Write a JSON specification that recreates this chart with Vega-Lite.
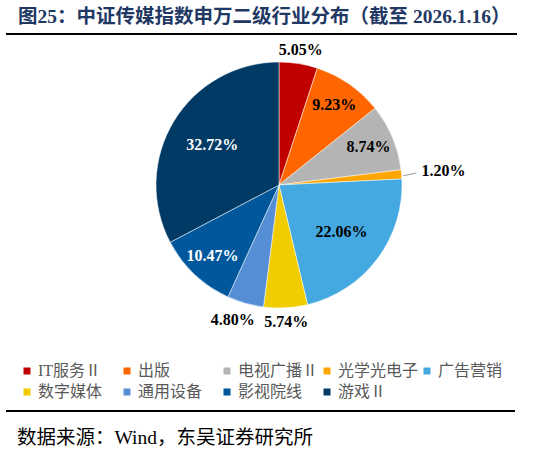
{
  "$schema": "https://vega.github.io/schema/vega-lite/v6.json",
  "description": "中证传媒指数申万二级行业分布",
  "width": 246,
  "height": 246,
  "autosize": "none",
  "padding": {"left": 156, "top": 62, "right": 134, "bottom": 150},
  "title": {
    "text": "图25：中证传媒指数申万二级行业分布（截至 2026.1.16）",
    "anchor": "start",
    "frame": "group",
    "dx": -138,
    "offset": -13,
    "font": "Liberation Serif, Noto Sans CJK SC",
    "fontSize": 19.5,
    "fontWeight": "bold",
    "color": "#1f3864"
  },
  "data": {
    "values": [
      {"industry": "IT服务Ⅱ", "share": 5.05},
      {"industry": "出版", "share": 9.23},
      {"industry": "电视广播Ⅱ", "share": 8.74},
      {"industry": "光学光电子", "share": 1.20},
      {"industry": "广告营销", "share": 22.06},
      {"industry": "数字媒体", "share": 5.74},
      {"industry": "通用设备", "share": 4.80},
      {"industry": "影视院线", "share": 10.47},
      {"industry": "游戏Ⅱ", "share": 32.72}
    ]
  },
  "transform": [
    {"window": [{"op": "row_number", "as": "idx"}]},
    {"calculate": "format(datum.share, '.2f') + '%'", "as": "label"}
  ],
  "layer": [
    {
      "mark": {"type": "arc", "outerRadius": 123, "stroke": "#ffffff", "strokeWidth": 0.5},
      "encoding": {
        "theta": {"field": "share", "type": "quantitative", "stack": true},
        "order": {"field": "idx", "type": "quantitative"},
        "color": {
          "field": "industry",
          "type": "nominal",
          "scale": {
            "domain": ["IT服务Ⅱ", "出版", "电视广播Ⅱ", "光学光电子", "广告营销", "数字媒体", "通用设备", "影视院线", "游戏Ⅱ"],
            "range": ["#c00000", "#ff6600", "#b4b4b4", "#ffa500", "#44a9e0", "#f0cc00", "#558ed5", "#01579b", "#023a66"]
          },
          "legend": {
            "orient": "none",
            "legendX": -137,
            "legendY": 301,
            "direction": "horizontal",
            "columns": 5,
            "title": null,
            "symbolType": "square",
            "symbolSize": 49,
            "symbolStrokeWidth": 0,
            "labelFont": "Liberation Serif, Noto Sans CJK SC",
            "labelFontSize": 16,
            "labelColor": "#595959",
            "labelOffset": 3,
            "columnPadding": -5,
            "rowPadding": 5,
            "gridAlign": "all",
            "padding": 0
          }
        }
      }
    },
    {
      "mark": {"type": "text", "radius": 78, "font": "Liberation Serif", "fontWeight": "bold", "fontSize": 16},
      "encoding": {
        "theta": {"field": "share", "type": "quantitative", "stack": true},
        "order": {"field": "idx", "type": "quantitative"},
        "text": {"condition": {"test": "datum.industry === '游戏Ⅱ' || datum.industry === '广告营销'", "field": "label"}, "value": ""},
        "color": {"condition": {"test": "datum.industry === '游戏Ⅱ'", "value": "#ffffff"}, "value": "#000000"}
      }
    },
    {
      "mark": {"type": "text", "radius": 97, "font": "Liberation Serif", "fontWeight": "bold", "fontSize": 16},
      "encoding": {
        "theta": {"field": "share", "type": "quantitative", "stack": true},
        "order": {"field": "idx", "type": "quantitative"},
        "text": {"condition": {"test": "indexof(['影视院线', '电视广播Ⅱ', '出版'], datum.industry) >= 0", "field": "label"}, "value": ""},
        "color": {"condition": {"test": "datum.industry === '影视院线'", "value": "#ffffff"}, "value": "#000000"}
      }
    },
    {
      "mark": {"type": "text", "radius": 137, "font": "Liberation Serif", "fontWeight": "bold", "fontSize": 16, "color": "#000000"},
      "encoding": {
        "theta": {"field": "share", "type": "quantitative", "stack": true},
        "order": {"field": "idx", "type": "quantitative"},
        "text": {"condition": {"test": "datum.industry === 'IT服务Ⅱ' || datum.industry === '数字媒体'", "field": "label"}, "value": ""}
      }
    },
    {
      "mark": {"type": "text", "radius": 140, "dx": -8, "font": "Liberation Serif", "fontWeight": "bold", "fontSize": 16, "color": "#000000"},
      "encoding": {
        "theta": {"field": "share", "type": "quantitative", "stack": true},
        "order": {"field": "idx", "type": "quantitative"},
        "text": {"condition": {"test": "datum.industry === '通用设备'", "field": "label"}, "value": ""}
      }
    },
    {
      "mark": {"type": "text", "radius": 165, "font": "Liberation Serif", "fontWeight": "bold", "fontSize": 16, "color": "#000000"},
      "encoding": {
        "theta": {"field": "share", "type": "quantitative", "stack": true},
        "order": {"field": "idx", "type": "quantitative"},
        "text": {"condition": {"test": "datum.industry === '光学光电子'", "field": "label"}, "value": ""}
      }
    },
    {
      "mark": {"type": "text", "radius": 131, "angle": -12, "font": "DejaVu Sans", "fontSize": 15, "color": "#a6a6a6"},
      "encoding": {
        "theta": {"field": "share", "type": "quantitative", "stack": true},
        "order": {"field": "idx", "type": "quantitative"},
        "text": {"condition": {"test": "datum.industry === '光学光电子'", "value": "—"}, "value": ""}
      }
    },
    {
      "data": {"values": [{"note": "数据来源：Wind，东吴证券研究所"}]},
      "mark": {"type": "text", "align": "left", "baseline": "alphabetic", "font": "Liberation Serif, Noto Sans CJK SC", "fontSize": 19.5, "color": "#000000"},
      "encoding": {
        "text": {"field": "note"},
        "x": {"value": -139},
        "y": {"value": 382}
      }
    },
    {
      "data": {"values": [{"rule": "title"}]},
      "mark": {"type": "rule", "strokeWidth": 2, "color": "#000000"},
      "encoding": {"x": {"value": -150}, "x2": {"value": 361}, "y": {"value": -28}}
    },
    {
      "data": {"values": [{"rule": "source"}]},
      "mark": {"type": "rule", "strokeWidth": 2, "color": "#000000"},
      "encoding": {"x": {"value": -150}, "x2": {"value": 359}, "y": {"value": 349}}
    }
  ],
  "config": {"view": {"stroke": null}}
}
